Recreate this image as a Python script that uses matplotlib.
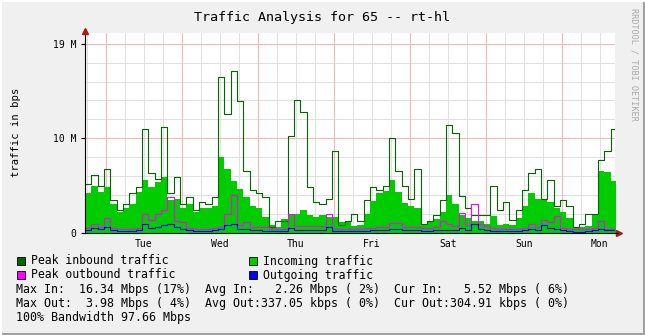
import numpy as np
import matplotlib
matplotlib.use('Agg')
from matplotlib import pyplot as plt
from matplotlib.lines import Line2D
from matplotlib.patches import Rectangle

# 2-hour samples (Mbps), Mon evening -> next Mon afternoon
peak_in = [5.2, 6.1, 5.0, 6.8, 3.5, 2.4, 3.1, 4.2, 4.9, 11.0, 6.3, 5.7, 11.2, 4.2, 5.9, 3.1,
           3.8, 2.4, 3.3, 3.1, 3.8, 16.5,
           12.6, 17.1, 13.9, 6.6, 4.5, 4.2, 3.8, 0.6, 1.3, 1.3, 10.2, 14.1, 12.8, 4.9, 3.3,
           3.1, 3.6, 8.7, 0.8, 1.3,
           2.0, 1.3, 3.5, 4.9, 4.5, 5.0, 10.0, 6.5, 5.0, 3.6, 6.8, 0.9, 1.3, 1.9, 3.5, 11.4,
           10.6, 3.9, 2.6, 1.9, 1.9,
           1.9, 5.0, 2.4, 3.3, 1.4, 2.4, 4.5, 6.3, 6.8, 3.6, 5.6, 2.8, 3.5, 2.8, 0.6, 1.0,
           2.0, 2.0, 7.7, 8.7, 11.0]
incoming = [4.2, 5.0, 4.3, 4.9, 3.1, 2.2, 2.6, 3.1, 4.3, 5.6, 4.9, 5.4, 5.9, 3.5, 3.6, 2.6,
            3.1, 2.2, 2.6, 2.6, 2.8, 8.0,
            6.8, 5.5, 4.6, 3.8, 2.8, 2.6, 1.7, 0.8, 0.6, 1.5, 1.9, 2.0, 2.4, 1.9, 1.7, 1.9,
            1.7, 1.7, 1.2, 1.3,
            0.7, 0.8, 2.0, 3.4, 4.2, 4.4, 5.6, 4.3, 3.2, 2.8, 2.6, 1.0, 1.2, 1.5, 2.2, 4.0,
            3.1, 1.9, 1.6, 1.3, 1.3,
            1.0, 1.8, 0.8, 0.9, 0.8, 1.6, 2.8, 4.2, 3.6, 3.5, 3.3, 2.6, 2.2, 1.6, 0.6, 0.6,
            0.7, 2.0, 6.6, 6.4, 5.5]
peak_out = [0.5, 1.0, 0.6, 1.6, 0.5, 0.4, 0.4, 0.4, 0.5, 2.0, 1.4, 2.0, 2.4, 3.8, 1.3, 1.2,
            0.5, 0.4, 0.4, 0.4, 0.5, 0.6,
            2.0, 4.0, 0.8, 1.2, 0.6, 0.6, 0.6, 0.45, 0.45, 0.45, 2.0, 0.7, 0.7, 0.7, 0.7, 0.7,
            2.0, 0.45, 0.45, 0.45,
            0.45, 0.45, 0.5, 0.5, 0.6, 0.6, 1.1, 1.1, 0.6, 0.6, 0.6, 0.5, 0.5, 0.6, 1.3, 1.0,
            0.7, 2.1, 0.8, 3.1, 1.0,
            0.7, 0.5, 0.45, 0.45, 0.45, 0.45, 0.5, 1.0, 0.6, 1.4, 1.2, 1.8, 0.5, 0.45, 0.45,
            0.45, 0.45, 0.5, 1.3, 0.45, 0.45]
outgoing = [0.3, 0.5, 0.4, 0.6, 0.3, 0.25, 0.25, 0.25, 0.3, 0.9, 0.5, 0.6, 0.8, 0.9, 0.6, 0.4,
            0.3, 0.25, 0.25, 0.25, 0.3, 0.4,
            0.8, 0.9, 0.4, 0.4, 0.3, 0.3, 0.25, 0.2, 0.2, 0.2, 0.5, 0.3, 0.3, 0.3, 0.3, 0.3,
            0.6, 0.25, 0.2, 0.2,
            0.2, 0.2, 0.25, 0.3, 0.3, 0.3, 0.4, 0.4, 0.3, 0.3, 0.3, 0.25, 0.25, 0.3, 0.3, 0.3,
            0.3, 0.5, 0.3, 1.0, 0.4,
            0.3, 0.25, 0.2, 0.2, 0.2, 0.2, 0.3, 0.4, 0.3, 0.8, 0.5, 0.4, 0.3, 0.2, 0.15, 0.15,
            0.2, 0.3, 0.4, 0.35, 0.3]

days = ['Tue', 'Wed', 'Thu', 'Fri', 'Sat', 'Sun', 'Mon']
y_ticks = [0, 10, 20]
y_labels = ['0', '10 M', '19 M']

title = 'Traffic Analysis for 65 -- rt-hl'
stats = ['Max In:  16.34 Mbps (17%)  Avg In:   2.26 Mbps ( 2%)  Cur In:   5.52 Mbps ( 6%)',
         'Max Out:  3.98 Mbps ( 4%)  Avg Out:337.05 kbps ( 0%)  Cur Out:304.91 kbps ( 0%)',
         '100% Bandwidth 97.66 Mbps']

W, H = 645, 335
MONO = 'DejaVu Sans Mono'


def fx(x):
    return x / W


def fy(y):
    return 1 - y / H


def step_edges(v):
    return np.append(v, v[-1])


fig = plt.figure(figsize=(W / 100, H / 100), dpi=100, facecolor='#F0F0F0')

# plot area in pixels: x 85..615, y 33..233
ax = fig.add_axes([fx(85), fy(233), 530 / W, 200 / H])
ax.set_facecolor('white')

t0, t1 = -6.6, 160.8   # hours relative to Tue 00:00
t = t0 + 2.0 * np.arange(len(peak_in) + 1)
ymax = 21.13

# grid
for h in np.arange(-6, t1, 6):
    ax.axvline(h, color='#E0E0E0', lw=0.75, zorder=0)
for v in np.arange(2, ymax, 2):
    ax.axhline(v, color='#E0E0E0', lw=0.75, zorder=0)
for h in np.arange(0, t1, 24):
    ax.axvline(h, color='#F2B8B8', lw=0.75, zorder=0.5)
for v in [10, 20]:
    ax.axhline(v, color='#F2B8B8', lw=0.75, zorder=0.5)

# data
ax.fill_between(t, step_edges(incoming), step='post', color='#00CC00', lw=0, zorder=2)
ax.step(t, step_edges(peak_in), where='post', color='#006600', lw=0.8, zorder=3)
ax.step(t, step_edges(peak_out), where='post', color='#FF00FF', lw=0.8, zorder=4)
ax.step(t, step_edges(outgoing), where='post', color='#0000FF', lw=0.8, zorder=5)

ax.set_xlim(t0, t1)
ax.set_ylim(0, ymax)
for s in ['top', 'right']:
    ax.spines[s].set_visible(False)
for s in ['left', 'bottom']:
    ax.spines[s].set_color('black')
    ax.spines[s].set_linewidth(0.8)
    ax.spines[s].set_zorder(6)

ax.set_yticks(y_ticks)
ax.set_yticklabels(y_labels, fontfamily=MONO, fontsize=7)
ax.set_xticks(np.arange(12, t1, 24))
ax.set_xticklabels(days, fontfamily=MONO, fontsize=7)
ax.tick_params(axis='y', length=3, width=0.8, pad=3)
ax.tick_params(axis='x', length=0, pad=4)

# axis arrows
fig.add_artist(Line2D([fx(85)], [fy(31)], marker='^', color='#A01E1E', markersize=4,
                      transform=fig.transFigure))
fig.add_artist(Line2D([fx(619)], [fy(233)], marker='>', color='#A01E1E', markersize=4,
                      transform=fig.transFigure))
fig.add_artist(Line2D([fx(615), fx(618)], [fy(233), fy(233)], color='black', lw=0.8,
                      transform=fig.transFigure))

# texts
fig.text(fx(322), fy(17), title, fontfamily=MONO, fontsize=9.6, ha='center', va='center')
fig.text(fx(16), fy(132), 'traffic in bps', fontfamily=MONO, fontsize=7.6,
         rotation=90, ha='center', va='center')
fig.text(fx(634), fy(8), 'RRDTOOL / TOBI OETIKER', fontfamily=MONO, fontsize=6.1,
         rotation=270, ha='center', va='top', color='#A8A8A8')

legend = [('Peak inbound traffic', '#006600', 17, 261),
          ('Incoming traffic', '#00CC00', 249, 261),
          ('Peak outbound traffic', '#FF00FF', 17, 275),
          ('Outgoing traffic', '#0000FF', 249, 275)]
for label, col, x, y in legend:
    fig.add_artist(Rectangle((fx(x), fy(y + 4)), 8 / W, 8 / H, transform=fig.transFigure,
                             facecolor=col, edgecolor='black', lw=0.6))
    fig.text(fx(x + 14), fy(y), label, fontfamily=MONO, fontsize=8.3, va='center')

for i, line in enumerate(stats):
    fig.text(fx(16), fy(289.5 + 14 * i), line, fontfamily=MONO, fontsize=8.4, va='center')

# frame
fig.add_artist(Line2D([0, 1], [fy(333.5), fy(333.5)], color='#A0A0A0', lw=2.2,
                      transform=fig.transFigure))
fig.add_artist(Line2D([fx(643.5), fx(643.5)], [0, 1], color='#A0A0A0', lw=2.2,
                      transform=fig.transFigure))
fig.add_artist(Line2D([0, 1], [fy(0.5), fy(0.5)], color='white', lw=1.5,
                      transform=fig.transFigure))
fig.add_artist(Line2D([fx(0.5), fx(0.5)], [0, 1], color='white', lw=1.5,
                      transform=fig.transFigure))

fig.savefig('out.png', dpi=100, facecolor=fig.get_facecolor())
